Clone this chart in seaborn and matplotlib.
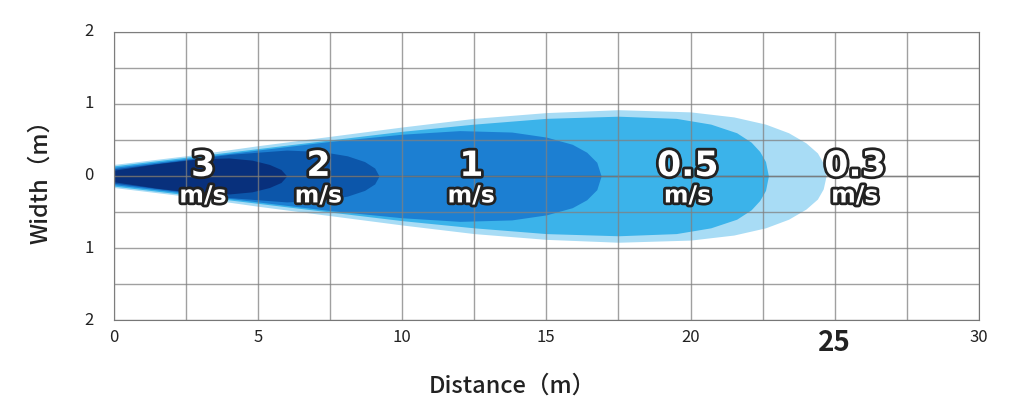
import matplotlib
matplotlib.use("Agg")
import matplotlib.pyplot as plt
import matplotlib.patheffects as pe
import numpy as np
import seaborn as sns

# plume outlines (distance m, half width m), outermost first
x_03 = [0, 2.5, 5, 7.5, 10, 12.5, 15, 17.5, 20, 21.5, 22.6, 23.4, 24.0, 24.4, 24.6, 24.7]
w_03 = [0.16, 0.28, 0.42, 0.55, 0.68, 0.8, 0.88, 0.92, 0.89, 0.82, 0.72, 0.6, 0.46, 0.32, 0.18, 0]
x_05 = [0, 2.5, 5, 7.5, 10, 12.5, 15, 17.5, 19.5, 20.7, 21.6, 22.1, 22.4, 22.6, 22.7]
w_05 = [0.14, 0.26, 0.38, 0.5, 0.62, 0.72, 0.8, 0.83, 0.8, 0.72, 0.6, 0.47, 0.34, 0.2, 0]
x_1 = [0, 2.5, 5, 7.5, 10, 12, 13.8, 15.0, 15.9, 16.4, 16.75, 16.9]
w_1 = [0.12, 0.24, 0.36, 0.48, 0.58, 0.63, 0.61, 0.54, 0.44, 0.33, 0.19, 0]
x_2 = [0, 2, 4, 6, 7.2, 8.1, 8.7, 9.05, 9.2]
w_2 = [0.1, 0.2, 0.3, 0.36, 0.34, 0.28, 0.2, 0.11, 0]
x_3 = [0, 1.5, 3, 4, 4.8, 5.4, 5.8, 6]
w_3 = [0.08, 0.17, 0.24, 0.25, 0.22, 0.16, 0.09, 0]

speeds = ["0.3", "0.5", "1", "2", "3"]
label_x = [25.7, 19.9, 12.4, 7.1, 3.1]
colors = ["#a8dcf5", "#3bb3ea", "#1c7fd2", "#0c56aa", "#08307c"]

xticks = [0, 5, 10, 15, 20, 25, 30]
yticks = [-2, -1, 0, 1, 2]
ytick_labels = ["2", "1", "0", "1", "2"]

sns.set_style("white")
plt.rcParams["font.family"] = ["Noto Sans CJK JP", "DejaVu Sans"]

fig = plt.figure(figsize=(10.24, 4.2), dpi=100)
ax = fig.add_axes([0.111, 0.238, 0.845, 0.686])

for xs, ws, c in zip([x_03, x_05, x_1, x_2, x_3], [w_03, w_05, w_1, w_2, w_3], colors):
    xs = np.array(xs)
    ws = np.array(ws)
    ax.fill_between(xs, -ws, ws, color=c, lw=0, zorder=1)

ax.set_xlim(0, 30)
ax.set_ylim(-2, 2)
ax.set_xticks(np.arange(0, 30.1, 2.5))
ax.set_yticks(np.arange(-2, 2.01, 0.5))
ax.grid(True, color="#808080", lw=1, alpha=0.75, zorder=2)
ax.set_axisbelow(False)
ax.axhline(0, color="#333333", lw=1, alpha=0.6, zorder=2)
ax.set_xticklabels([])
ax.set_yticklabels([])
ax.tick_params(length=0)
for s in ax.spines.values():
    s.set_color("#777777")

for t in xticks:
    big = t == 25
    ax.text(t, -2.12, str(t), ha="center", va="top", color="#222222",
            fontsize=20 if big else 12, fontweight="bold" if big else "normal")
for t, l in zip(yticks, ytick_labels):
    ax.text(-0.7, t, l, ha="right", va="center", color="#222222", fontsize=12)

fx = [pe.withStroke(linewidth=4, foreground="#222222")]
for sp, lx in zip(speeds, label_x):
    ax.text(lx, 0.14, sp, ha="center", va="center", color="white", fontsize=25,
            fontweight="bold", family="DejaVu Sans", path_effects=fx, zorder=5)
    ax.text(lx, -0.27, "m/s", ha="center", va="center", color="white", fontsize=17,
            fontweight="bold", family="DejaVu Sans", path_effects=fx, zorder=5)

fig.text(0.5, 0.08, "Distance（m）", ha="center", va="center", fontsize=17,
         fontweight="medium", color="#222222")
fig.text(0.04, 0.58, "Width（m）", ha="center", va="center", fontsize=17,
         fontweight="medium", color="#222222", rotation=90)

fig.savefig("out.png", dpi=100)
